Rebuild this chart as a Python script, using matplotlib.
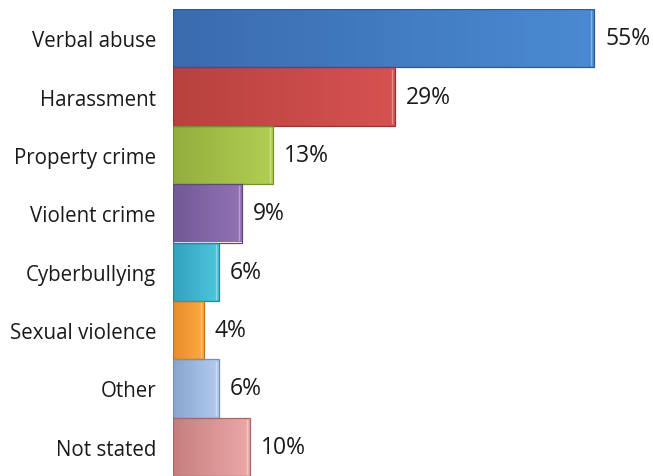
import numpy as np
import matplotlib
matplotlib.use("Agg")
import matplotlib.pyplot as plt
from matplotlib.colors import LinearSegmentedColormap

categories = ["Verbal abuse", "Harassment", "Property crime", "Violent crime",
              "Cyberbullying", "Sexual violence", "Other", "Not stated"]
values = [55, 29, 13, 9, 6, 4, 6, 10]
value_labels = ["55%", "29%", "13%", "9%", "6%", "4%", "6%", "10%"]

# left (darker) and right (lighter) shade for each bar
dark_colors = ["#3a6cae", "#b8423e", "#93ae3e", "#715a96", "#33a2bc", "#e88c2a", "#88a5cf", "#c67e7e"]
light_colors = ["#4a8ad2", "#d65250", "#b2ce52", "#9272b4", "#4ec6de", "#fdaa42", "#b2cbee", "#eca9a8"]
edge_colors = ["#2f5a90", "#963634", "#77902f", "#5c4a7c", "#2a8499", "#c07020", "#7590b8", "#a86868"]

plt.rcParams['font.family'] = ['Open Sans', 'DejaVu Sans']

fig = plt.figure(figsize=(6.53, 4.77), dpi=100)
ax = fig.add_axes([173 / 653, 0, 62 * 7.655 / 653, 467 / 477])

y = np.arange(len(categories))
bars = ax.barh(y, values, height=1.0, color="none", edgecolor="none")

grad = np.linspace(0, 1, 256).reshape(1, -1)
for bar, c0, c1, ec in zip(bars, dark_colors, light_colors, edge_colors):
    x0, y0 = bar.get_x(), bar.get_y()
    w, h = bar.get_width(), bar.get_height()
    cmap = LinearSegmentedColormap.from_list("g", [c0, c1])
    im = ax.imshow(grad, cmap=cmap, aspect="auto", extent=[x0, x0 + w, y0, y0 + h],
                   origin="lower", zorder=2)
    im.set_clip_path(bar)
    # thin highlight near the right end, then the outline
    ax.plot([x0 + w - 0.35, x0 + w - 0.35], [y0 + 0.04, y0 + h - 0.04],
            color="white", alpha=0.35, lw=1.0, zorder=3)
    ax.add_patch(plt.Rectangle((x0, y0), w, h, fill=False, edgecolor=ec, lw=0.9, zorder=4))

for yi, v, lab in zip(y, values, value_labels):
    ax.annotate(lab, (v, yi), xytext=(11, 0), textcoords="offset pixels",
                va="center", ha="left", fontsize=16.5, color="#1a1a1a")

ax.set_xlim(0, 62)
ax.set_ylim(len(categories) - 0.5, -0.5)
ax.set_yticks(y)
ax.set_yticklabels(categories, fontsize=14.8, color="#1a1a1a")
ax.tick_params(axis="y", length=0, pad=17 * 0.72)
ax.set_xticks([])
for s in ax.spines.values():
    s.set_visible(False)

fig.savefig("out.png", dpi=100)
